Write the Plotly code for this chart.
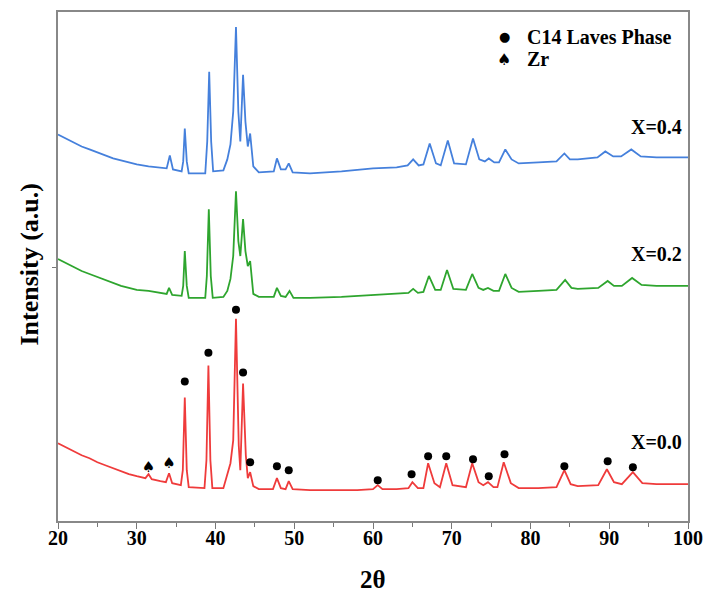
import plotly.graph_objects as go

# ---- data (2theta in degrees, intensity in a.u.) ----
two_theta_x00 = [20, 21, 22, 23, 24, 25, 26, 27, 28, 29, 30, 31.1, 31.5, 31.9, 33, 33.7, 34.1, 34.5,
                 35.6, 35.85, 36.1, 36.35, 36.6, 38.6, 38.85, 39.1, 39.35, 39.6, 41.0, 41.5, 41.9,
                 42.25, 42.6, 42.95, 43.15, 43.5, 43.85, 44.1, 44.4, 44.8, 45.5, 47.3, 47.8, 48.3,
                 48.9, 49.3, 49.8, 52, 55, 58, 60, 60.6, 61.2, 63, 64.5, 65.0, 65.7, 66.4, 67.0,
                 67.8, 68.5, 69.3, 70.1, 71.8, 72.6, 73.4, 74.0, 74.6, 75.3, 75.8, 76.6, 77.5,
                 78.5, 81, 83.3, 84.3, 85.1, 86, 88.6, 89.7, 90.6, 91.6, 93.0, 94.2, 96, 100]
intensity_x00 = [78, 74, 70, 66, 63, 59, 56, 53, 50, 47, 45, 43, 47, 42, 40, 39, 48, 38,
                 36, 51, 124, 51, 34, 33, 61, 156, 61, 33, 33, 46, 58,
                 81, 203, 76, 51, 138, 66, 43, 49, 35, 32, 32, 43, 33,
                 32, 40, 32, 31, 31, 31, 32, 36, 32, 32, 33, 39, 33, 33, 58,
                 38, 34, 58, 36, 34, 58, 39, 36, 39, 34, 34, 59, 38,
                 33, 33, 34, 51, 37, 35, 36, 52, 39, 37, 49, 38, 37, 37]

two_theta_x02 = [20, 21, 22, 23, 24, 25, 26, 27, 28, 29, 30, 31.5, 33, 33.8, 34.1, 34.5, 35.7,
                 35.9, 36.1, 36.35, 36.6, 38.7, 38.9, 39.15, 39.4, 39.65, 41.0, 41.5, 41.9, 42.25,
                 42.6, 42.9, 43.15, 43.5, 43.8, 44.1, 44.4, 44.8, 45.5, 47.4, 47.8, 48.3, 48.9,
                 49.4, 49.9, 52, 56, 60, 63, 64.5, 65.1, 65.7, 66.4, 67.1, 67.9, 68.6, 69.4, 70.2,
                 71.8, 72.6, 73.4, 74, 74.6, 75.3, 76.0, 76.8, 77.6, 78.5, 81, 83.3, 84.4, 85.2,
                 86, 88.6, 89.8, 90.6, 91.6, 92.9, 94.1, 96, 100]
intensity_x02 = [263, 259, 255, 251, 248, 245, 242, 239, 236, 234, 232, 231, 229, 228, 234, 227, 226,
                 236, 271, 236, 224, 224, 246, 313, 246, 224, 225, 231, 243, 266,
                 331, 281, 266, 303, 271, 256, 261, 228, 225, 225, 234, 226, 225,
                 231, 224, 224, 225, 227, 228, 229, 233, 229, 230, 246, 232, 232, 252, 233,
                 232, 248, 234, 232, 234, 231, 231, 248, 234, 230, 231, 232, 242, 234,
                 233, 234, 241, 236, 236, 244, 237, 236, 236]

two_theta_x04 = [20, 21, 22, 23, 24, 25, 26, 27, 28, 29, 30, 31.5, 33, 33.8, 34.2, 34.6, 35.7,
                 35.9, 36.1, 36.35, 36.6, 38.7, 38.95, 39.2, 39.45, 39.7, 41.0, 41.5, 41.9, 42.25,
                 42.6, 42.9, 43.15, 43.5, 43.8, 44.1, 44.4, 44.8, 45.5, 47.4, 47.8, 48.3, 48.9,
                 49.3, 49.8, 52, 56, 60, 63, 64.4, 65.1, 65.8, 66.4, 67.2, 68.0, 68.6, 69.5, 70.3,
                 71.8, 72.7, 73.5, 74.2, 74.7, 75.4, 76.0, 76.8, 77.6, 78.5, 81, 83.3, 84.3, 85,
                 86, 88.5, 89.5, 90.5, 91.5, 92.8, 94, 96, 100]
intensity_x04 = [388, 384, 380, 376, 373, 370, 367, 364, 362, 360, 358, 356, 355, 354, 367, 353, 351,
                 361, 394, 361, 349, 349, 381, 451, 381, 351, 352, 363, 378, 411,
                 496, 411, 381, 448, 401, 376, 389, 356, 350, 351, 364, 353, 353,
                 359, 350, 349, 351, 354, 355, 357, 363, 357, 358, 379, 359, 357, 382, 359,
                 358, 384, 363, 361, 364, 360, 360, 373, 363, 359, 360, 361, 369, 363,
                 363, 365, 371, 366, 366, 373, 366, 365, 365]

# phase markers on the X=0.0 pattern
c14_theta = [36.1, 39.1, 42.6, 43.5, 44.4, 47.8, 49.3, 60.6, 64.9, 67.0, 69.3, 72.7, 74.7,
             76.7, 84.3, 89.8, 93.0]
c14_height = [140, 169, 212, 149, 59, 55, 51, 41, 47, 65, 65, 62, 45, 67, 55, 60, 54]
zr_theta = [31.5, 34.1]
zr_height = [53, 57]

series_names = ["X=0.0", "X=0.2", "X=0.4"]
label_heights = [79, 268, 396]
tick_values = [20, 30, 40, 50, 60, 70, 80, 90, 100]
legend_labels = ["C14 Laves Phase", "Zr"]
legend_symbols = ["●", "♠"]

red = "#ef3b3b"
green = "#2ea52e"
blue = "#4580dc"
serif = "Liberation Serif, Times New Roman, serif"
symfont = "DejaVu Sans"

fig = go.Figure()
for xs, ys, col in [(two_theta_x00, intensity_x00, red),
                    (two_theta_x02, intensity_x02, green),
                    (two_theta_x04, intensity_x04, blue)]:
    fig.add_trace(go.Scatter(x=xs, y=ys, mode="lines", line=dict(color=col, width=1.8),
                             showlegend=False, hoverinfo="skip"))

fig.add_trace(go.Scatter(x=c14_theta, y=c14_height, mode="markers", name=legend_labels[0],
                         showlegend=False,
                         marker=dict(symbol="circle", size=8, color="black")))
fig.add_trace(go.Scatter(x=zr_theta, y=zr_height, mode="text", name=legend_labels[1],
                         showlegend=False, text=[legend_symbols[1]] * len(zr_theta),
                         textposition="middle center",
                         textfont=dict(family=symfont, size=15, color="black")))

# manual legend (top right, inside the frame)
for i, (sym, lab) in enumerate(zip(legend_symbols, legend_labels)):
    yp = 0.951 - i * 0.044
    fig.add_annotation(x=0.708, y=yp, xref="paper", yref="paper", text=sym, showarrow=False,
                       xanchor="center", yanchor="middle",
                       font=dict(family=symfont, size=13 if i == 0 else 16, color="black"))
    fig.add_annotation(x=0.742, y=yp, xref="paper", yref="paper", text="<b>%s</b>" % lab,
                       showarrow=False, xanchor="left", yanchor="middle",
                       font=dict(family=serif, size=20, color="black"))

for name, h in zip(series_names, label_heights):
    fig.add_annotation(x=99.5, y=h, text="<b>%s</b>" % name, showarrow=False,
                       xanchor="right", yanchor="middle",
                       font=dict(family=serif, size=20, color="black"))

fig.add_annotation(x=0.5, y=-0.115, xref="paper", yref="paper", text="<b>2θ</b>",
                   showarrow=False, xanchor="center", yanchor="middle",
                   font=dict(family=serif, size=25, color="black"))
fig.add_annotation(x=-0.045, y=0.505, xref="paper", yref="paper", text="<b>Intensity (a.u.)</b>",
                   showarrow=False, textangle=-90, xanchor="center", yanchor="middle",
                   font=dict(family=serif, size=26, color="black"))

fig.update_layout(
    width=713, height=602,
    margin=dict(l=58, r=19, t=10, b=81),
    paper_bgcolor="white", plot_bgcolor="white",
    showlegend=False,
)
fig.update_xaxes(range=[20, 100], tickvals=tick_values,
                 ticktext=["<b>%d</b>" % v for v in tick_values],
                 ticks="outside", ticklen=6, tickwidth=1.2, tickcolor="#777",
                 ticklabelstandoff=-8,
                 minor=dict(dtick=5, ticks="outside", ticklen=4, tickcolor="#777"),
                 showline=True, linecolor="#888", linewidth=1.5, mirror=True,
                 showgrid=False, zeroline=False,
                 tickfont=dict(family=serif, size=20, color="black"))
fig.update_yaxes(range=[0, 511], tickvals=[254], ticktext=[""], ticks="outside", ticklen=4,
                 tickcolor="#777", showline=True, linecolor="#888", linewidth=1.5, mirror=True,
                 showgrid=False, zeroline=False)

fig.write_html("out.html")
